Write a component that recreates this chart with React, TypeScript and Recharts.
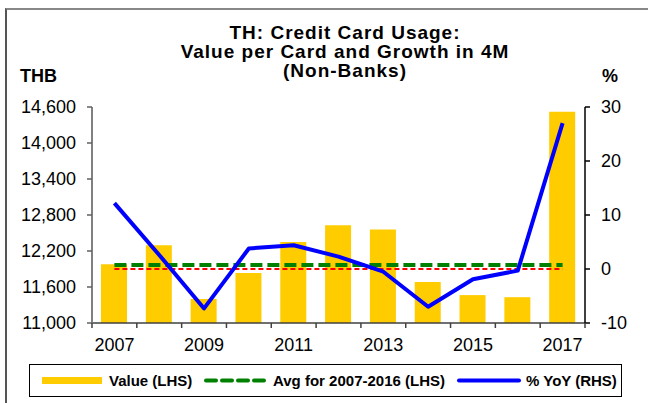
import React from 'react';
import {
  ComposedChart,
  Bar,
  Line,
  XAxis,
  YAxis,
} from 'recharts';

const years = ['2007', '2008', '2009', '2010', '2011', '2012', '2013', '2014', '2015', '2016', '2017'];
const valuePerCard = [11980, 12295, 11400, 11835, 12350, 12630, 12560, 11685, 11465, 11430, 14520];
const yoyGrowth = [12.2, 2.6, -7.3, 3.8, 4.4, 2.3, -0.5, -7.0, -1.9, -0.3, 27.0];
const avg2007to2016 = 11965;
const zeroLine = 0;

const leftTicks = [11000, 11600, 12200, 12800, 13400, 14000, 14600];
const rightTicks = [-10, 0, 10, 20, 30];

const data = years.map((year, i) => ({
  year,
  value: valuePerCard[i],
  yoy: yoyGrowth[i],
  avg: avg2007to2016,
  zero: zeroLine,
}));

const FONT = 'Arial, "Liberation Sans", Helvetica, sans-serif';
const TICK_SIZE = 5;
const TICK_MARGIN = 10;

// category axis: labels every other year, tick marks on band edges
function YearTick(props: any) {
  const { x, y, payload, index } = props;
  const half = payload && payload.offset ? payload.offset : 22.4;
  const axisY = y - TICK_SIZE - TICK_MARGIN;
  const isLast = index === years.length - 1;
  return (
    <g>
      <line x1={x - half} x2={x - half} y1={axisY} y2={axisY + TICK_SIZE} stroke="#404040" strokeWidth={1.5} />
      {isLast && (
        <line x1={x + half} x2={x + half} y1={axisY} y2={axisY + TICK_SIZE} stroke="#404040" strokeWidth={1.5} />
      )}
      {index % 2 === 0 && (
        <text x={x} y={y} dy="0.71em" textAnchor="middle" fontSize={18} fontFamily={FONT} fill="#000">
          {payload.value}
        </text>
      )}
    </g>
  );
}

const legendText: React.CSSProperties = {
  position: 'absolute',
  top: 372,
  fontSize: 15,
  lineHeight: '17px',
  fontWeight: 'bold',
  fontFamily: FONT,
  color: '#000',
  whiteSpace: 'nowrap',
};

export default function App() {
  return (
    <div style={{ position: 'absolute', left: 0, top: 0, width: 648, height: 403, background: '#fff', overflow: 'hidden' }}>
      {/* frame */}
      <div
        style={{
          position: 'absolute',
          left: 5,
          top: 8,
          width: 650,
          height: 400,
          borderLeft: '2px solid #555',
          borderTop: '2px solid #888',
        }}
      />

      {/* title */}
      <div
        style={{
          position: 'absolute',
          left: 0,
          width: 690,
          top: 23,
          textAlign: 'center',
          fontFamily: FONT,
          fontWeight: 'bold',
          fontSize: 19,
          lineHeight: '19px',
          letterSpacing: 1,
          color: '#000',
        }}
      >
        TH: Credit Card Usage:
        <br />
        Value per Card and Growth in 4M
        <br />
        (Non-Banks)
      </div>
      <div style={{ position: 'absolute', left: 20, top: 67, fontFamily: FONT, fontWeight: 'bold', fontSize: 18, lineHeight: '18px' }}>
        THB
      </div>
      <div style={{ position: 'absolute', left: 602, top: 67, fontFamily: FONT, fontWeight: 'bold', fontSize: 18, lineHeight: '18px' }}>
        %
      </div>

      <div style={{ position: 'absolute', left: 0, top: 0 }}>
        <ComposedChart width={648} height={403} data={data} margin={{ top: 107, right: 13, bottom: 50, left: 12 }}>
          <XAxis
            dataKey="year"
            height={30}
            interval={0}
            tickLine={false}
            tickSize={TICK_SIZE}
            tickMargin={TICK_MARGIN}
            tick={<YearTick />}
            axisLine={{ stroke: '#404040', strokeWidth: 1.5 }}
          />
          <YAxis
            yAxisId="left"
            width={80}
            domain={[11000, 14600]}
            ticks={leftTicks}
            allowDataOverflow
            tickSize={TICK_SIZE}
            tickMargin={11}
            tickFormatter={(v: number) => v.toLocaleString('en-US')}
            tick={{ fontSize: 18, fontFamily: FONT, fill: '#000' }}
            tickLine={{ stroke: '#606060', strokeWidth: 1.5 }}
            axisLine={{ stroke: '#808080', strokeWidth: 2 }}
          />
          <YAxis
            yAxisId="right"
            orientation="right"
            width={50}
            domain={[-10, 30]}
            ticks={rightTicks}
            tickSize={TICK_SIZE}
            tickMargin={11}
            tick={{ fontSize: 18, fontFamily: FONT, fill: '#000' }}
            tickLine={{ stroke: '#000', strokeWidth: 1.5 }}
            axisLine={{ stroke: '#000', strokeWidth: 1.5 }}
          />
          <Bar yAxisId="left" dataKey="value" fill="#FFCC00" barSize={26} isAnimationActive={false} />
          <Line
            yAxisId="right"
            dataKey="zero"
            stroke="#FF0000"
            strokeWidth={2}
            strokeDasharray="5 3"
            dot={false}
            activeDot={false}
            isAnimationActive={false}
          />
          <Line
            yAxisId="left"
            dataKey="avg"
            stroke="#008000"
            strokeWidth={4}
            strokeDasharray="12 5"
            dot={false}
            activeDot={false}
            isAnimationActive={false}
          />
          <Line
            yAxisId="right"
            dataKey="yoy"
            stroke="#0000FF"
            strokeWidth={4}
            strokeLinejoin="round"
            dot={false}
            activeDot={false}
            isAnimationActive={false}
          />
        </ComposedChart>
      </div>

      {/* legend */}
      <div
        style={{
          position: 'absolute',
          left: 29,
          top: 364,
          width: 591,
          height: 31,
          border: '1px solid #000',
        }}
      />
      <svg style={{ position: 'absolute', left: 0, top: 370 }} width={648} height={22}>
        <line x1={42} x2={102} y1={10.5} y2={10.5} stroke="#FFCC00" strokeWidth={7} />
        <line x1={206} x2={267} y1={10.5} y2={10.5} stroke="#008000" strokeWidth={4} strokeDasharray="10 6" strokeLinecap="round" />
        <line x1={459} x2={519} y1={10.5} y2={10.5} stroke="#0000FF" strokeWidth={4} strokeLinecap="round" />
      </svg>
      <div style={{ ...legendText, left: 109 }}>Value (LHS)</div>
      <div style={{ ...legendText, left: 273 }}>Avg for 2007-2016 (LHS)</div>
      <div style={{ ...legendText, left: 526 }}>% YoY (RHS)</div>
    </div>
  );
}
